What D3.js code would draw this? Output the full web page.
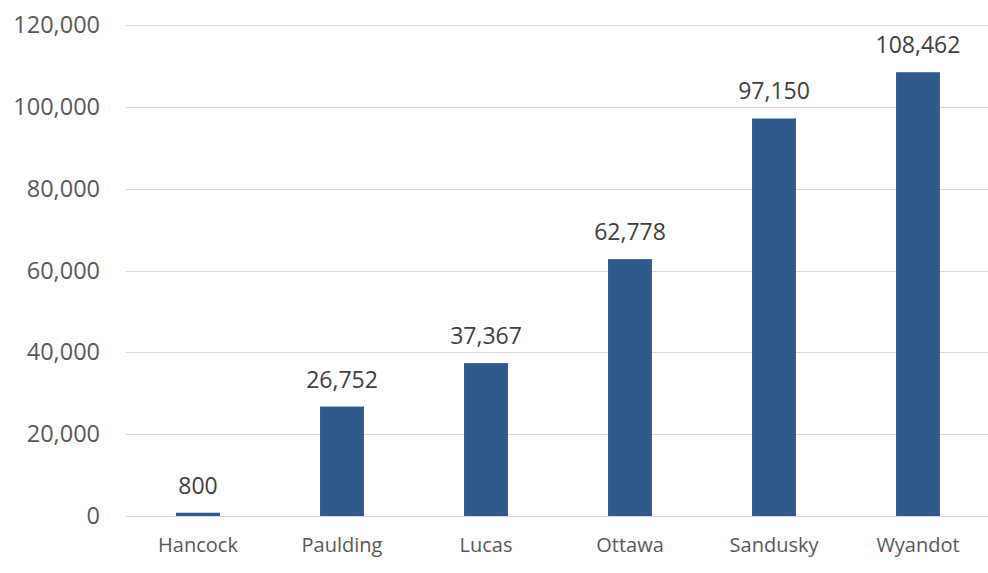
<!DOCTYPE html>
<html>
<head>
<meta charset="utf-8">
<script src="https://cdn.jsdelivr.net/npm/d3@7"></script>
<style>
  body { margin: 0; background: #fff; }
  text { font-family: "Open Sans", "Noto Sans", sans-serif; }
</style>
</head>
<body>
<svg width="988" height="573"></svg>
<script>
// county names and values
var counties = ["Hancock", "Paulding", "Lucas", "Ottawa", "Sandusky", "Wyandot"];
var values = [800, 26752, 37367, 62778, 97150, 108462];
var yTicks = [0, 20000, 40000, 60000, 80000, 100000, 120000];

var svg = d3.select("svg"), width = +svg.attr("width"), height = +svg.attr("height");
var margin = { top: 25, right: -2, bottom: 57, left: 126 };

var x = d3.scaleBand().domain(counties)
          .range([margin.left, width - margin.right])
          .paddingInner(0.695).paddingOuter(0.3475);
var y = d3.scaleLinear().domain([0, 120000]).range([height - margin.bottom, margin.top]);
var fmt = d3.format(",");

// gridlines
svg.append("g").selectAll("line").data(yTicks).enter().append("line")
   .attr("x1", margin.left).attr("x2", width - margin.right)
   .attr("y1", function(d) { return Math.round(y(d)) + 0.5; })
   .attr("y2", function(d) { return Math.round(y(d)) + 0.5; })
   .attr("stroke", "#d9d9d9").attr("stroke-width", 1);

// y axis labels
var yAxis = svg.append("g").attr("transform", "translate(" + (margin.left - 26) + ",0)")
   .call(d3.axisLeft(y).tickValues(yTicks).tickFormat(fmt).tickSize(0).tickPadding(0));
yAxis.select(".domain").remove();
yAxis.selectAll("text").attr("fill", "#595959").style("font-size", "23.5px");

// bars
svg.append("g").selectAll("rect").data(values).enter().append("rect")
   .attr("x", function(d, i) { return x(counties[i]); })
   .attr("width", x.bandwidth())
   .attr("y", function(d) { return y(d); })
   .attr("height", function(d) { return y(0) - y(d); })
   .attr("fill", "#2f5a8b");

// value labels
svg.append("g").selectAll("text").data(values).enter().append("text")
   .attr("x", function(d, i) { return x(counties[i]) + x.bandwidth() / 2; })
   .attr("y", function(d) { return y(d) - 19; })
   .attr("text-anchor", "middle")
   .attr("fill", "#404040").style("font-size", "23px")
   .text(function(d) { return fmt(d); });

// x axis labels
var xAxis = svg.append("g").attr("transform", "translate(0," + y(0) + ")")
   .call(d3.axisBottom(x).tickSize(0).tickPadding(22));
xAxis.select(".domain").remove();
xAxis.selectAll("text").attr("fill", "#595959").style("font-size", "20px");
</script>
</body>
</html>
